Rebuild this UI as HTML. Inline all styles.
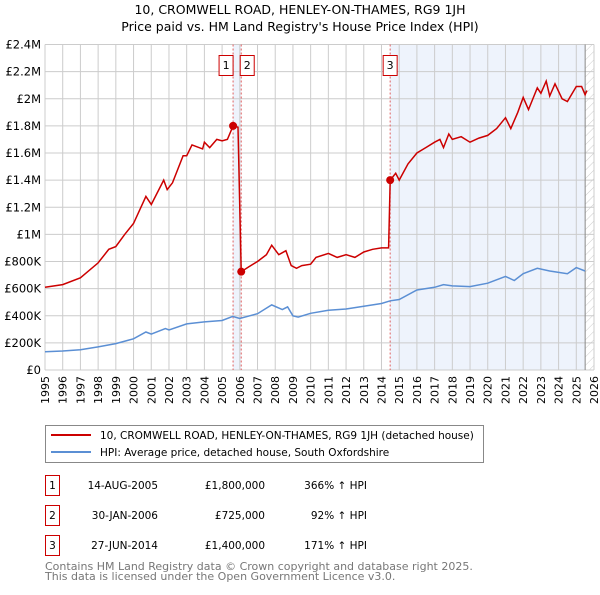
<!DOCTYPE html>
<html><head><meta charset="utf-8"><style>
body{margin:0;background:#fff;}
svg text{font-family:"DejaVu Sans","Liberation Sans",sans-serif;}
</style></head><body>
<svg id="chart" width="600" height="590" viewBox="0 0 600 590" xmlns="http://www.w3.org/2000/svg">
<defs><pattern id="hatch" width="6" height="6" patternUnits="userSpaceOnUse" patternTransform="rotate(45)"><line x1="0" y1="0" x2="0" y2="6" stroke="#ccc" stroke-width="1"/></pattern></defs>
<text x="300" y="14" text-anchor="middle" font-size="12.5">10, CROMWELL ROAD, HENLEY-ON-THAMES, RG9 1JH</text>
<text x="300" y="31" text-anchor="middle" font-size="12.5">Price paid vs. HM Land Registry's House Price Index (HPI)</text>
<g id="plot"></g>
<rect x="45.5" y="425.5" width="438" height="37" fill="#fff" stroke="#888"/>
<line x1="51" y1="435" x2="91" y2="435" stroke="#cc0000" stroke-width="2"/>
<text x="100" y="439" font-size="10.5">10, CROMWELL ROAD, HENLEY-ON-THAMES, RG9 1JH (detached house)</text>
<line x1="51" y1="452" x2="91" y2="452" stroke="#5b8fd4" stroke-width="2"/>
<text x="100" y="456" font-size="10.5">HPI: Average price, detached house, South Oxfordshire</text>
<g id="table" font-size="10.5"></g>
<text x="45" y="570" font-size="11" fill="#777">Contains HM Land Registry data © Crown copyright and database right 2025.</text>
<text x="45" y="580" font-size="11" fill="#777">This data is licensed under the Open Government Licence v3.0.</text>
</svg>
<script>
const yTicks=[0,200,400,600,800,1000,1200,1400,1600,1800,2000,2200,2400];
const yTickLabels=["£0","£200K","£400K","£600K","£800K","£1M","£1.2M","£1.4M","£1.6M","£1.8M","£2M","£2.2M","£2.4M"];
const years=[1995,1996,1997,1998,1999,2000,2001,2002,2003,2004,2005,2006,2007,2008,2009,2010,2011,2012,2013,2014,2015,2016,2017,2018,2019,2020,2021,2022,2023,2024,2025,2026];
const hpiT=[1995,1996,1997,1998,1999,2000,2000.7,2001,2001.8,2002,2003,2004,2005,2005.6,2006,2007,2007.8,2008.4,2008.7,2009,2009.3,2010,2011,2012,2013,2014,2014.5,2015,2016,2017,2017.5,2018,2019,2020,2021,2021.5,2022,2022.8,2023.5,2024,2024.5,2025,2025.5];
const hpiV=[135,140,150,170,195,230,280,265,305,295,340,355,365,395,380,415,480,445,465,400,390,418,440,450,470,490,510,520,590,610,630,620,615,640,690,660,710,750,730,720,710,755,730];
const propT=[1995,1996,1997,1998,1998.6,1999,1999.5,2000,2000.7,2001,2001.7,2001.9,2002.2,2002.8,2003,2003.3,2003.9,2004,2004.3,2004.7,2005,2005.3,2005.62,2005.9,2006.08,2006.5,2007,2007.5,2007.8,2008.2,2008.6,2008.9,2009.2,2009.5,2010,2010.3,2011,2011.5,2012,2012.5,2013,2013.5,2014,2014.4,2014.49,2014.8,2015,2015.5,2016,2016.5,2017,2017.3,2017.5,2017.8,2018,2018.5,2019,2019.5,2020,2020.5,2021,2021.3,2021.7,2022,2022.3,2022.8,2023,2023.3,2023.5,2023.8,2024.2,2024.5,2025,2025.3,2025.5,2025.6];
const propV=[610,630,680,790,890,910,1000,1080,1280,1220,1400,1330,1380,1580,1580,1660,1630,1680,1640,1700,1690,1700,1800,1790,725,760,800,850,920,850,880,770,750,770,780,830,860,830,850,830,870,890,900,900,1400,1450,1400,1520,1600,1640,1680,1700,1640,1740,1700,1720,1680,1710,1730,1780,1860,1780,1900,2010,1920,2080,2040,2130,2020,2110,2000,1980,2090,2090,2030,2060];
const saleLabels=["1","2","3"];
const saleT=[2005.62,2006.08,2014.49];
const saleV=[1800,725,1400];
const saleDates=["14-AUG-2005","30-JAN-2006","27-JUN-2014"];
const salePrices=["£1,800,000","£725,000","£1,400,000"];
const salePct=["366% ↑ HPI","92% ↑ HPI","171% ↑ HPI"];

const L=45,R=594,T=44.5,B=370,x0=1995,x1=2026,ymax=2400;
const X=t=>L+(t-x0)/(x1-x0)*(R-L);
const Y=v=>B-v/ymax*(B-T);
const NS="http://www.w3.org/2000/svg";
const plot=document.getElementById('plot');
function mk(tag,attrs,parent){const e=document.createElementNS(NS,tag);for(const k in attrs)e.setAttribute(k,attrs[k]);(parent||plot).appendChild(e);return e;}
let e;
e=mk('rect',{x:X(saleT[0]),y:T,width:X(saleT[1])-X(saleT[0]),height:B-T,fill:'#eef3fc'});


e=mk('rect',{x:X(saleT[2]),y:T,width:X(2025.5)-X(saleT[2]),height:B-T,fill:'#eef3fc'});


e=mk('rect',{x:X(2025.5),y:T,width:R-X(2025.5),height:B-T,fill:'url(#hatch)'});


years.forEach((yr,i)=>{
 e=mk('line',{x1:X(yr),x2:X(yr),y1:T,y2:B,stroke:'#ccc','stroke-width':1});
 
 
 e=mk('text',{x:0,y:0,'font-size':11,'text-anchor':'end',transform:`translate(${X(yr)+4},${B+6}) rotate(-90)`});
 e.textContent=yr;
 
 
});
yTicks.forEach((v,i)=>{
 e=mk('line',{x1:L,x2:R,y1:Y(v),y2:Y(v),stroke:'#ccc','stroke-width':1});
 
 
 e=mk('text',{x:L-4,y:Y(v)+4,'font-size':11.5,'text-anchor':'end'});
 e.textContent=yTickLabels[i];
 
 
});
e=mk('line',{x1:X(2025.5),x2:X(2025.5),y1:T,y2:B,stroke:'#888','stroke-width':1});


saleT.forEach((t,i)=>{
 e=mk('line',{x1:X(t),x2:X(t),y1:T,y2:B,stroke:'#e06060','stroke-width':1,'stroke-dasharray':'2,2'});
 
 
});
const pts=(ts,vs)=>ts.map((t,i)=>X(t).toFixed(1)+','+Y(vs[i]).toFixed(1)).join(' ');
e=mk('polyline',{points:pts(hpiT,hpiV),fill:'none',stroke:'#5b8fd4','stroke-width':1.5});


e=mk('polyline',{points:pts(propT,propV),fill:'none',stroke:'#cc0000','stroke-width':1.5});


saleT.forEach((t,i)=>{
 e=mk('circle',{cx:X(t),cy:Y(saleV[i]),r:4,fill:'#cc0000'});
 
 
 const bx=i==0?X(t)-14:(i==1?X(t)-1:X(t)-7);
 e=mk('rect',{x:bx,y:55.5,width:14,height:20,fill:'#fff',stroke:'#cc0000'});
 
 
 e=mk('text',{x:bx+7,y:69,'font-size':11,'text-anchor':'middle'});
 e.textContent=saleLabels[i];
 
 
});
const tb=document.getElementById('table');
saleT.forEach((t,i)=>{
 const y=475+i*30;
 e=mk('rect',{x:45.5,y:y+0.5,width:14,height:20,fill:'#fff',stroke:'#cc0000'},tb);
 
 
 e=mk('text',{x:52.5,y:y+14,'text-anchor':'middle'},tb);e.textContent=saleLabels[i];
 
 
 e=mk('text',{x:158,y:y+14,'text-anchor':'end'},tb);e.textContent=saleDates[i];
 
 
 e=mk('text',{x:265,y:y+14,'text-anchor':'end'},tb);e.textContent=salePrices[i];
 
 
 e=mk('text',{x:367,y:y+14,'text-anchor':'end'},tb);e.textContent=salePct[i];
 
 
});
</script>
</body></html>
